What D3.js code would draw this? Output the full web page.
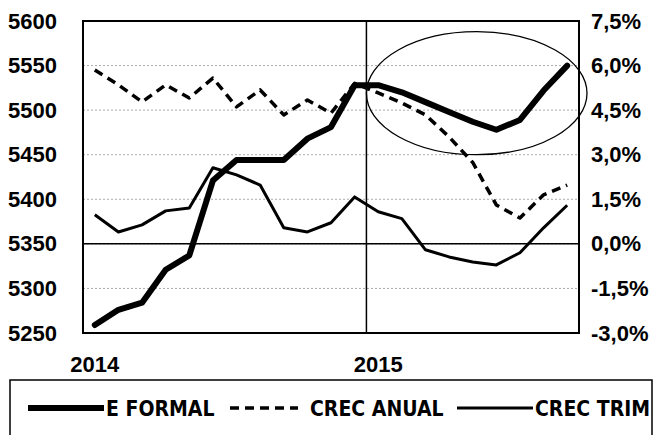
<!DOCTYPE html>
<html>
<head>
<meta charset="utf-8">
<script src="https://cdn.jsdelivr.net/npm/d3@7"></script>
<style>
  body { margin: 0; background: #fff; }
  svg { display: block; }
</style>
</head>
<body>
<svg id="chart" width="657" height="435"></svg>
<script>
// months, Jan 2014 .. Sep 2015
var months = ["ene-14","feb-14","mar-14","abr-14","may-14","jun-14","jul-14","ago-14","sep-14","oct-14","nov-14","dic-14",
              "ene-15","feb-15","mar-15","abr-15","may-15","jun-15","jul-15","ago-15","sep-15"];
// formal employment (left axis, thousands)
var eFormal = [5259,5276,5284,5321,5337,5421,5444,5444,5444,5468,5481,5528,5528,5520,5509,5498,5487,5478,5489,5522,5550];
// annual growth, % (right axis)
var crecAnual = [5.85,5.35,4.78,5.35,4.91,5.58,4.61,5.18,4.34,4.84,4.40,5.40,5.08,4.74,4.34,3.60,2.74,1.31,0.87,1.65,1.98];
// quarterly growth, % (right axis)
var crecTrim = [0.98,0.40,0.64,1.11,1.21,2.56,2.32,1.98,0.54,0.40,0.71,1.58,1.08,0.85,-0.20,-0.44,-0.61,-0.71,-0.30,0.54,1.30];

var leftTicks = [5250,5300,5350,5400,5450,5500,5550,5600];
var rightTicks = [-3,-1.5,0,1.5,3,4.5,6,7.5];
var yearLabels = [{ month: "ene-14", text: "2014" }, { month: "ene-15", text: "2015" }];
var legendItems = [
    { name: "E FORMAL", width: 6, dash: null },
    { name: "CREC ANUAL", width: 3.5, dash: "9,6" },
    { name: "CREC TRIM", width: 3, dash: null }
];

var svg = d3.select("#chart");
// note: "top" is taken by window.top, so plotTop
var plotLeft = 83, plotRight = 579, plotTop = 21, plotBottom = 333;

var x = d3.scaleBand().domain(months).range([plotLeft, plotRight]);
var yL = d3.scaleLinear().domain([5250, 5600]).range([plotBottom, plotTop]);
var yR = d3.scaleLinear().domain([-3, 7.5]).range([plotBottom, plotTop]);
var cx = function(m) { return x(m) + x.bandwidth() / 2; };

// spanish style numbers, plain hyphen for negatives
var es = d3.formatLocale({ decimal: ",", thousands: ".", grouping: [3], currency: ["", "€"], minus: "-" });
var pct = es.format(".1f");

var tickFont = "'Liberation Sans', Arial, sans-serif";
var legendFont = "'DejaVu Sans Condensed', 'Liberation Sans', sans-serif";

// gridlines
svg.append("g").selectAll("line")
    .data(leftTicks.slice(1, -1))
    .enter().append("line")
    .attr("x1", plotLeft).attr("x2", plotRight)
    .attr("y1", function(d) { return yL(d); })
    .attr("y2", function(d) { return yL(d); })
    .attr("stroke", "#aaa")
    .attr("stroke-width", 1)
    .attr("stroke-dasharray", "2,2");

// left axis
var gl = svg.append("g")
    .attr("transform", "translate(" + plotLeft + ",0)")
    .call(d3.axisLeft(yL).tickValues(leftTicks).tickSize(0).tickPadding(26).tickFormat(d3.format("d")));
gl.select(".domain").remove();
gl.selectAll("text").attr("font-family", tickFont).attr("font-weight", "bold").attr("font-size", 22).attr("fill", "#000");

// right axis
var gr = svg.append("g")
    .attr("transform", "translate(" + plotRight + ",0)")
    .call(d3.axisRight(yR).tickValues(rightTicks).tickSize(0).tickPadding(12).tickFormat(function(d) { return pct(d) + "%"; }));
gr.select(".domain").remove();
gr.selectAll("text").attr("font-family", tickFont).attr("font-weight", "bold").attr("font-size", 22).attr("fill", "#000");

// year labels
svg.append("g").selectAll("text")
    .data(yearLabels)
    .enter().append("text")
    .attr("x", function(d) { return cx(d.month); })
    .attr("y", 372)
    .attr("text-anchor", "middle")
    .attr("font-family", tickFont).attr("font-weight", "bold").attr("font-size", 22)
    .text(function(d) { return d.text; });

// plot frame
svg.append("rect")
    .attr("x", plotLeft).attr("y", plotTop)
    .attr("width", plotRight - plotLeft).attr("height", plotBottom - plotTop)
    .attr("fill", "none").attr("stroke", "#000").attr("stroke-width", 2);

// zero line and 2015 divider
svg.append("line")
    .attr("x1", plotLeft).attr("x2", plotRight)
    .attr("y1", yR(0)).attr("y2", yR(0))
    .attr("stroke", "#000").attr("stroke-width", 1.5);
svg.append("line")
    .attr("x1", x("ene-15")).attr("x2", x("ene-15"))
    .attr("y1", plotTop).attr("y2", plotBottom)
    .attr("stroke", "#000").attr("stroke-width", 1.5);

// series
var lineL = d3.line().x(function(d, i) { return cx(months[i]); }).y(function(d) { return yL(d); });
var lineR = d3.line().x(function(d, i) { return cx(months[i]); }).y(function(d) { return yR(d); });

svg.append("path").datum(crecTrim)
    .attr("d", lineR).attr("fill", "none").attr("stroke", "#000")
    .attr("stroke-width", 3).attr("stroke-linejoin", "round");
svg.append("path").datum(crecAnual)
    .attr("d", lineR).attr("fill", "none").attr("stroke", "#000")
    .attr("stroke-width", 3.5).attr("stroke-dasharray", "9,6").attr("stroke-linejoin", "round");
svg.append("path").datum(eFormal)
    .attr("d", lineL).attr("fill", "none").attr("stroke", "#000")
    .attr("stroke-width", 6).attr("stroke-linejoin", "round").attr("stroke-linecap", "round");

// hand-drawn ellipse around 2015
var ex1 = x("ene-15"), ex2 = plotRight + 8;
var ey1 = yL(5588), ey2 = yL(5450);
svg.append("ellipse")
    .attr("cx", (ex1 + ex2) / 2).attr("cy", (ey1 + ey2) / 2)
    .attr("rx", (ex2 - ex1) / 2).attr("ry", (ey2 - ey1) / 2)
    .attr("fill", "none").attr("stroke", "#000").attr("stroke-width", 1.3);

// legend
svg.append("rect")
    .attr("x", 10).attr("y", 380).attr("width", 642).attr("height", 70)
    .attr("fill", "none").attr("stroke", "#000").attr("stroke-width", 1.5);

var legendX = [28, 230, 457];
var lg = svg.append("g").selectAll("g")
    .data(legendItems)
    .enter().append("g")
    .attr("transform", function(d, i) { return "translate(" + legendX[i] + ",408)"; });
lg.append("line")
    .attr("x1", 0).attr("x2", function(d, i) { return i === 1 ? 68 : 76; })
    .attr("stroke", "#000")
    .attr("stroke-width", function(d) { return d.width; })
    .attr("stroke-dasharray", function(d) { return d.dash; });
lg.append("text")
    .attr("x", function(d, i) { return i === 1 ? 80 : 78; })
    .attr("y", 8)
    .attr("font-family", legendFont).attr("font-weight", "bold").attr("font-size", 21)
    .text(function(d) { return d.name; });
</script>
</body>
</html>
